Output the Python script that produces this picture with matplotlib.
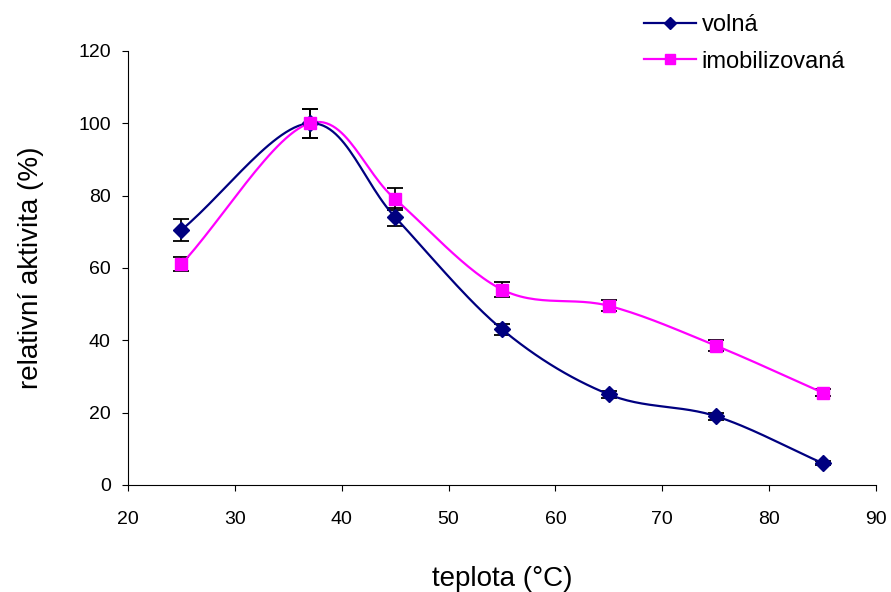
import numpy as np
import matplotlib.pyplot as plt
from matplotlib.lines import Line2D

plt.rcParams['font.family'] = ['Liberation Sans', 'DejaVu Sans']

teplota = [25, 37, 45, 55, 65, 75, 85]
volna = [70.5, 100, 74, 43, 25, 19, 6]
volna_err = [3, 4, 2.5, 1.5, 1, 1, 0.5]
imob = [61, 100, 79, 54, 49.5, 38.5, 25.5]
imob_err = [2, 4, 3, 2, 1.5, 1.5, 1]


def smooth(x, y, n=30):
    # Catmull-Rom spline jako v Excelu
    x = np.asarray(x, float)
    y = np.asarray(y, float)
    px = np.concatenate([[2 * x[0] - x[1]], x, [2 * x[-1] - x[-2]]])
    py = np.concatenate([[2 * y[0] - y[1]], y, [2 * y[-1] - y[-2]]])
    xs, ys = [], []
    t = np.linspace(0, 1, n)
    for i in range(1, len(px) - 2):
        for p, out in ((px, xs), (py, ys)):
            p0, p1, p2, p3 = p[i - 1], p[i], p[i + 1], p[i + 2]
            out.append(0.5 * (2 * p1 + (-p0 + p2) * t
                              + (2 * p0 - 5 * p1 + 4 * p2 - p3) * t ** 2
                              + (-p0 + 3 * p1 - 3 * p2 + p3) * t ** 3))
    return np.concatenate(xs), np.concatenate(ys)


fig = plt.figure(figsize=(8.91, 5.92), dpi=100)
ax = fig.add_axes([0.1437, 0.181, 0.8395, 0.733])

handles = []
for y, err, col, mk, ms, lab in [(volna, volna_err, '#000080', 'D', 8, 'volná'),
                                 (imob, imob_err, '#FF00FF', 's', 8, 'imobilizovaná')]:
    ax.errorbar(teplota, y, yerr=err, fmt='none', ecolor='black', elinewidth=1.3,
                capsize=6, capthick=1.3, zorder=2)
    sx, sy = smooth(teplota, y)
    ax.plot(sx, sy, color=col, lw=1.6, zorder=3)
    ax.plot(teplota, y, linestyle='none', marker=mk, ms=ms, color=col, zorder=4)
    handles.append(Line2D([], [], color=col, lw=1.6, marker=mk, ms=ms - 1.5, label=lab))

ax.set_xlim(20, 90)
ax.set_ylim(0, 120)
ax.set_xticks(range(20, 91, 10))
ax.set_yticks(range(0, 121, 20))
ax.spines['top'].set_visible(False)
ax.spines['right'].set_visible(False)
ax.tick_params(direction='out', length=4.5, labelsize=14)
ax.tick_params(axis='x', pad=14.5)
ax.tick_params(axis='y', pad=8)

ax.set_xlabel('teplota (°C)', fontsize=20, va='center')
ax.xaxis.set_label_coords(0.5, (485 - 579) / 434)
ax.set_ylabel('relativní aktivita (%)', fontsize=20, va='center')
ax.yaxis.set_label_coords((31 - 128) / 748, 0.5)

fig.legend(handles=handles, loc='upper left', bbox_to_anchor=(644 / 891, 1 - 14 / 592),
           frameon=False, fontsize=17, handlelength=2.2, handletextpad=0.25,
           labelspacing=0.62, borderpad=0, borderaxespad=0)

fig.savefig('out.png', dpi=100)
